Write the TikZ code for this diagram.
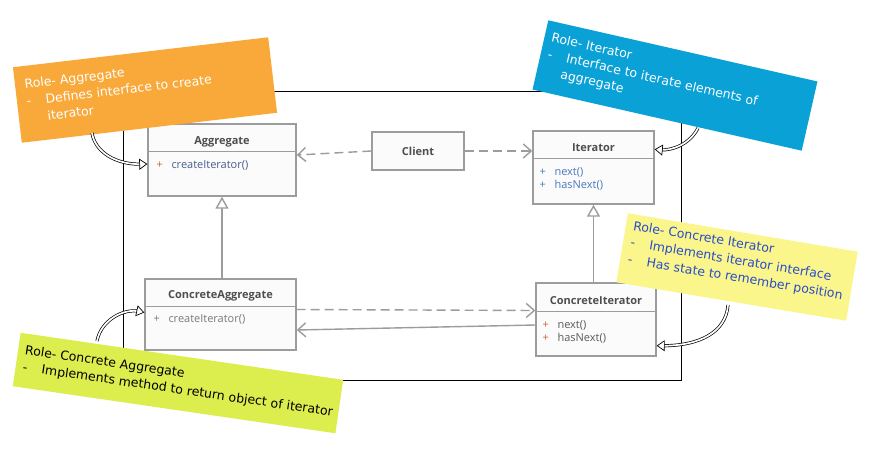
\documentclass[tikz,border=0pt]{standalone}
\usepackage{fontspec}
\setmainfont{Open Sans}
\newfontfamily\notefont{DejaVu Sans}
\usetikzlibrary{arrows.meta,calc}

\definecolor{boxline}{HTML}{9C9C9C}
\definecolor{boxfill}{HTML}{FBFBFB}
\definecolor{namecol}{HTML}{4E4E4E}
\definecolor{methblue}{HTML}{4A5C8E}
\definecolor{methgrey}{HTML}{7A7A7A}
\definecolor{methdark}{HTML}{5A5A5A}
\definecolor{plusred}{HTML}{D0603A}
\definecolor{plusblue}{HTML}{4A78C0}
\definecolor{noteorange}{HTML}{F8A93A}
\definecolor{noteblue}{HTML}{09A1D6}
\definecolor{noteyellow}{HTML}{FAF68C}
\definecolor{notegreen}{HTML}{DBEE4E}
\definecolor{inkblue}{HTML}{2A4CC8}

\newcommand\pluscol[1]{\makebox[15pt][l]{\textcolor{#1}{+}}}
\newcommand\dashind{\makebox[19pt][l]{-}}

\tikzset{
  clsbox/.style={draw=boxline, line width=1.4pt, fill=boxfill, inner sep=0pt},
  clssep/.style={draw=boxline, line width=1.4pt},
  clsname/.style={font=\fontsize{11}{13}\selectfont\bfseries, text=namecol, inner sep=0pt},
  method/.style={font=\fontsize{11}{13.5}\selectfont, inner sep=0pt, anchor=north west, align=left},
  link/.style={draw=boxline, line width=1.4pt},
  dep/.style={link, dash pattern=on 9pt off 5pt, -{Straight Barb[length=8pt, width=14pt, line width=1.4pt]}},
  assoc/.style={link, -{Straight Barb[length=8pt, width=14pt, line width=1.4pt]}},
  inherit/.style={link, -{Triangle[open, fill=white, length=12pt, width=13pt, line width=1.4pt]}},
  notebox/.style={draw=none, inner sep=0pt, transform shape},
  notetext/.style={font=\notefont\fontsize{12.5}{17}\selectfont, inner sep=0pt,
    anchor=north west, align=left, transform shape},
  hollowline/.style={line width=0.7pt, double=white, double distance=1.7pt, shorten >=5pt},
  hollowtip/.style={line width=0.7pt, -{Triangle[open, fill=white, length=8pt, width=11pt]}}
}

% hollow curved arrow: start, control 1, control 2, end
\newcommand\hollowarrow[4]{%
  \draw[hollowline] (#1) .. controls (#2) and (#3) .. (#4);
  \draw[hollowtip] ($(#4)!8pt!(#3)$) -- (#4);
}

\begin{document}
\begin{tikzpicture}[x=1pt, y=1pt]
\useasboundingbox (0,0) rectangle (875,-450);
\fill[white] (0,0) rectangle (875,-450);

% outer frame
\draw[black, line width=0.8pt] (123,-91) rectangle (681,-380);

% ---- classes ----
\node[clsbox, minimum width=148pt, minimum height=72pt] (agg) at (222,-160) {};
\draw[clssep] ([yshift=-28pt]agg.north west) -- ([yshift=-28pt]agg.north east);
\node[clsname] (aggname) at ([yshift=-19pt]agg.north) {Aggregate};
\node[method, text=methblue] (aggm) at ([xshift=9pt, yshift=-37pt]agg.north west)
  {\pluscol{plusred}createIterator()};

\node[clsbox, minimum width=92pt, minimum height=38pt] (client) at (418,-151) {};
\node[clsname] (clientname) at (client.center) {Client};

\node[clsbox, minimum width=121pt, minimum height=73pt] (iter) at (593.5,-167.5) {};
\draw[clssep] ([yshift=-28pt]iter.north west) -- ([yshift=-28pt]iter.north east);
\node[clsname] (itername) at ([yshift=-17pt]iter.north) {Iterator};
\node[method, text=plusblue] (iterm) at ([xshift=7pt, yshift=-37pt]iter.north west)
  {\pluscol{plusblue}next()\\ \pluscol{plusblue}hasNext()};

\node[clsbox, minimum width=151pt, minimum height=71pt] (cagg) at (220.5,-314.5) {};
\draw[clssep] ([yshift=-28pt]cagg.north west) -- ([yshift=-28pt]cagg.north east);
\node[clsname] (caggname) at ([yshift=-18pt]cagg.north) {ConcreteAggregate};
\node[method, text=methgrey] (caggm) at ([xshift=9pt, yshift=-36pt]cagg.north west)
  {\pluscol{methgrey}createIterator()};

\node[clsbox, minimum width=120pt, minimum height=73pt] (citer) at (596,-319.5) {};
\draw[clssep] ([yshift=-29pt]citer.north west) -- ([yshift=-29pt]citer.north east);
\node[clsname] (citername) at ([yshift=-18pt]citer.north) {ConcreteIterator};
\node[method, text=methdark] (citerm) at ([xshift=7pt, yshift=-38pt]citer.north west)
  {\pluscol{plusred}next()\\ \pluscol{plusred}hasNext()};

% ---- relations ----
\draw[dep] (client.west) -- ([yshift=-4pt]agg.east |- client.west);
\draw[dep] (client.east) -- (iter.west |- client.east);
\draw[inherit] (cagg.north -| aggname) -- (agg.south -| aggname);
\draw[inherit] (citer.north -| itername) -- (iter.south -| itername);
\draw[dep] ([yshift=5pt]cagg.east) -- ([yshift=9pt]citer.west);
\draw[assoc] ([yshift=-5.5pt]citer.west) -- ([yshift=-15.5pt]cagg.east);

% ---- role notes ----
\begin{scope}[shift={(145,-90)}, rotate=6.7]
  \node[notebox, fill=noteorange, minimum width=257pt, minimum height=76pt] (noteagg) at (0,0) {};
  \node[notetext, text=white] (noteaggtext) at (-119,25)
    {Role- Aggregate\\ \dashind Defines interface to create\\ \hspace*{19pt}iterator};
\end{scope}

\begin{scope}[shift={(675,-85.5)}, rotate=-12.8]
  \node[notebox, fill=noteblue, minimum width=276pt, minimum height=71pt] (noteiter) at (0,0) {};
  \node[notetext, text=white] (noteitertext) at (-131,25)
    {Role- Iterator\\ \dashind Interface to iterate elements of\\ \hspace*{17pt}aggregate};
\end{scope}

\begin{scope}[shift={(737,-267)}, rotate=-9.5]
  \node[notebox, fill=noteyellow, minimum width=233pt, minimum height=70pt] (notecit) at (0,0) {};
  \node[notetext, text=inkblue] (notecittext) at (-109,29)
    {Role- Concrete Iterator\\ \dashind Implements iterator interface\\ \dashind Has state to remember position};
\end{scope}

\begin{scope}[shift={(178,-383)}, rotate=-8.3]
  \node[notebox, fill=notegreen, minimum width=326pt, minimum height=54pt] (notecagg) at (0,0) {};
  \node[notetext, text=black] (notecaggtext) at (-156,16)
    {Role- Concrete Aggregate\\ \dashind Implements method to return object of iterator};
\end{scope}

% ---- pointers from notes to classes ----
\coordinate (fromagg) at (92,-133);
\coordinate (fromiter) at (698,-128);
\coordinate (fromcit) at (728,-305);
\coordinate (fromcagg) at (97,-341);
\coordinate (toagg) at ([yshift=-4pt]agg.west);
\coordinate (toiter) at ([yshift=-19pt]iter.north east);
\coordinate (tocit) at ([yshift=11pt]citer.south east);
\coordinate (tocagg) at ([yshift=2pt]cagg.west);

\hollowarrow{fromagg}{95,-152}{116,-165}{toagg}
\hollowarrow{fromiter}{690,-144}{672,-151}{toiter}
\hollowarrow{fromcit}{726,-332}{700,-346}{tocit}
\hollowarrow{fromcagg}{101,-320}{124,-308}{tocagg}

\end{tikzpicture}
\end{document}
